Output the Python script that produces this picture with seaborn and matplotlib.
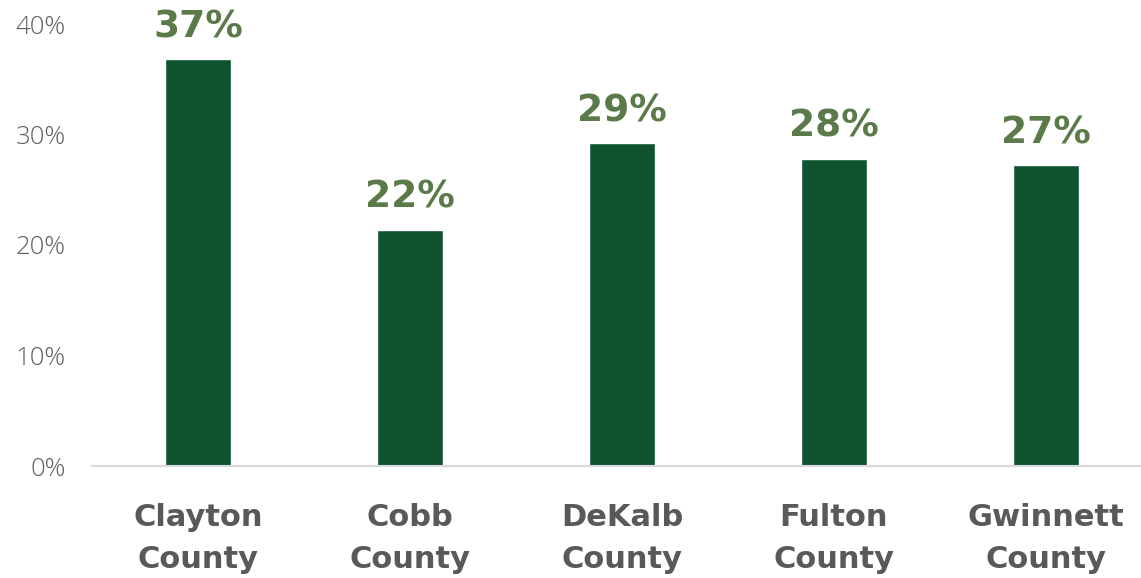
"""Bar chart: share by county (metro Atlanta)."""

import matplotlib.pyplot as plt
import pandas as pd
import seaborn as sns

counties = ["Clayton\nCounty", "Cobb\nCounty", "DeKalb\nCounty", "Fulton\nCounty", "Gwinnett\nCounty"]
values = [36.8, 21.4, 29.2, 27.8, 27.2]
labels = ["37%", "22%", "29%", "28%", "27%"]
y_ticks = [0, 10, 20, 30, 40]

BAR_COLOR = "#10532F"
LABEL_COLOR = "#5A7A4A"
TEXT_GRAY = "#595959"


def main() -> None:
    sns.set_theme(style="white")
    plt.rcParams["font.family"] = ["DejaVu Sans"]

    df = pd.DataFrame({"county": counties, "value": values})

    fig = plt.figure(figsize=(11.41, 5.78), dpi=100)
    ax = fig.add_axes([92 / 1141, 112 / 578, 1060 / 1141, 442 / 578])

    sns.barplot(data=df, x="county", y="value", color=BAR_COLOR, width=0.31,
                saturation=1, ax=ax)

    for i, (v, lab) in enumerate(zip(values, labels)):
        ax.annotate(lab, (i, v), xytext=(0, 10), textcoords="offset points",
                    ha="center", va="bottom", fontsize=27, fontweight="bold",
                    color=LABEL_COLOR, family="DejaVu Sans",
                    annotation_clip=False)

    ax.set_xlim(-0.5, 4.5)
    ax.set_ylim(0, 40)
    ax.set_yticks(y_ticks)
    ax.set_yticklabels([f"{t}%" for t in y_ticks], fontsize=18.5, color="#606060",
                       family="Open Sans", fontweight=300)
    ax.tick_params(axis="y", length=0, pad=19)
    ax.tick_params(axis="x", length=0, pad=27)
    for t in ax.get_xticklabels():
        t.set_fontsize(22)
        t.set_fontweight("bold")
        t.set_color(TEXT_GRAY)
        t.set_family("DejaVu Sans")
        t.set_linespacing(1.55)
    ax.set_xlabel("")
    ax.set_ylabel("")

    for s in ["top", "right", "left"]:
        ax.spines[s].set_visible(False)
    ax.spines["bottom"].set_color("#D9D9D9")
    ax.spines["bottom"].set_linewidth(1.5)

    fig.savefig("out.png", dpi=100)
    plt.close(fig)


if __name__ == "__main__":
    main()
